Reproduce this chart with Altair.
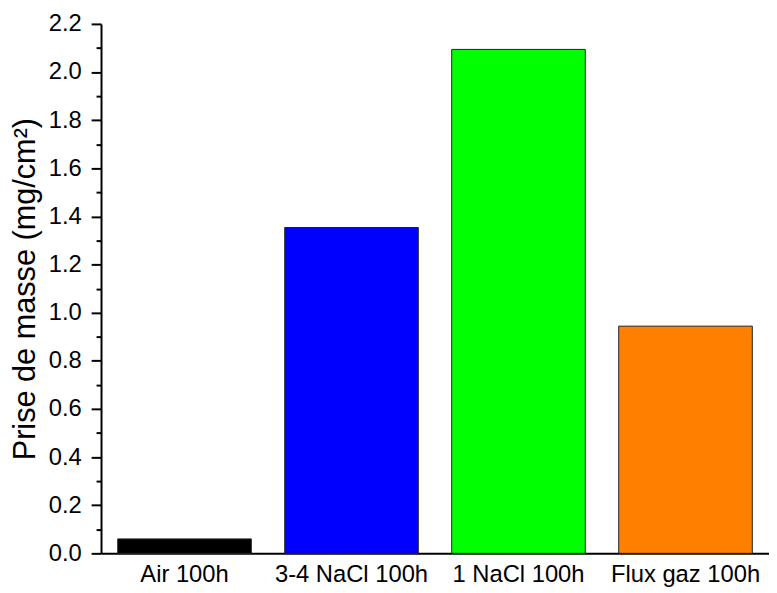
import altair as alt
import pandas as pd

categories = ["Air 100h", "3-4 NaCl 100h", "1 NaCl 100h", "Flux gaz 100h"]
values = [0.06, 1.354, 2.094, 0.944]
colors = ["#000000", "#0000FF", "#00FF00", "#FF8000"]
y_ticks = [round(i * 0.1, 1) for i in range(23)]

df = pd.DataFrame({"cat": categories, "val": values})

FONT = "Liberation Sans"

chart = alt.Chart(df).mark_bar(stroke="#222222", strokeWidth=1).encode(
    x=alt.X("cat:N", sort=categories,
            scale=alt.Scale(paddingInner=0.2, paddingOuter=0.1),
            axis=alt.Axis(title=None, labelAngle=0, ticks=False, labelPadding=9,
                          labelFontSize=24, labelFont=FONT, labelColor="#000000",
                          domainColor="#000000", domainWidth=2)),
    y=alt.Y("val:Q", scale=alt.Scale(domain=[0, 2.2], nice=False, zero=True),
            axis=alt.Axis(title="Prise de masse (mg/cm²)", values=y_ticks,
                          labelExpr="round(datum.value*10) % 2 == 0 ? format(datum.value, '.1f') : ''",
                          tickSize={"condition": {"test": "round(datum.value*10) % 2 == 0", "value": 10}, "value": 5},
                          tickColor="#000000", tickWidth=2,
                          domainColor="#000000", domainWidth=2,
                          labelFontSize=24, labelFont=FONT, labelColor="#000000",
                          labelPadding=10, grid=False,
                          titleFontSize=31, titleFont=FONT, titleFontWeight="normal",
                          titleColor="#000000", titlePadding=7)),
    color=alt.Color("cat:N", sort=categories,
                    scale=alt.Scale(domain=categories, range=colors), legend=None),
).properties(
    width=675, height=535,
    autosize=alt.AutoSizeParams(type="none"),
    padding={"left": 94, "top": 13, "right": 0, "bottom": 37},
).configure_view(strokeWidth=0)

chart.save("out.html", embed_options={"renderer": "svg", "actions": False})
